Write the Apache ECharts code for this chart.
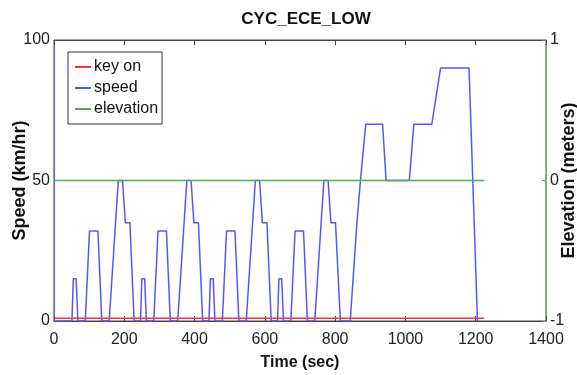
<!DOCTYPE html>
<html>
<head>
<meta charset="utf-8">
<script src="https://cdn.jsdelivr.net/npm/echarts@6/dist/echarts.min.js"></script>
<style>html,body{margin:0;padding:0;background:#fff}#c{width:577px;height:375px}</style>
</head>
<body>
<div id="c"></div>
<script>
// Speed profile (time in s, speed in km/h)
var speedTime = [0,51,55,63,68,89,101,125,136,157,183,195,203,216,228,
  246,250,258,263,284,296,320,331,352,378,390,398,411,423,
  441,445,453,458,479,491,515,526,547,573,585,593,606,618,
  636,640,648,653,674,686,710,721,742,768,780,788,801,815,
  843,862,872,887,935,945,1011,1024,1075,1100,1181,1205];
var speedVal = [0,0,15,15,0,0,32,32,0,0,50,50,35,35,0,
  0,15,15,0,0,32,32,0,0,50,50,35,35,0,
  0,15,15,0,0,32,32,0,0,50,50,35,35,0,
  0,15,15,0,0,32,32,0,0,50,50,35,35,0,
  0,35,50,70,70,50,50,70,70,90,90,0];
var keyOnTime = [0,1224];
var keyOnVal = [1,1];
var elevTime = [0,1224];
var elevVal = [0,0];

function pairs(t,v){var o=[];for(var i=0;i<t.length;i++)o.push([t[i],v[i]]);return o;}

var font = 'Liberation Sans, Arial, sans-serif';
var plain = function(v){return String(v);};
var chart = echarts.init(document.getElementById('c'));
chart.setOption({
  animation:false,
  backgroundColor:'#fff',
  title:{text:'CYC_ECE_LOW',left:301,top:6,textAlign:'center',
    textStyle:{fontFamily:font,fontSize:17,fontWeight:'bold',color:'#111'}},
  grid:{left:54,right:31,top:40,bottom:54,containLabel:false,outerBoundsMode:'none',
    show:true,borderColor:'#444',borderWidth:1},
  legend:{orient:'vertical',left:68,top:52,borderColor:'#333',borderWidth:1,
    backgroundColor:'#fff',padding:[7,4,7,7],itemGap:5,itemWidth:16,itemHeight:2,icon:'rect',
    textStyle:{fontFamily:font,fontSize:16,color:'#111',padding:[0,0,0,-2]},
    data:['key on','speed','elevation']},
  xAxis:[{type:'value',min:0,max:1400,interval:200,
    name:'Time (sec)',nameLocation:'middle',nameGap:34,nameMoveOverlap:false,
    nameTextStyle:{fontFamily:font,fontSize:16,fontWeight:'bold',color:'#111'},
    axisLine:{onZero:false,lineStyle:{color:'#444'}},
    axisTick:{inside:true,length:5,lineStyle:{color:'#444'}},
    axisLabel:{fontFamily:font,fontSize:16,color:'#222',margin:11,formatter:plain},
    splitLine:{show:false}},
   {type:'value',position:'top',min:0,max:1400,interval:200,
    axisLine:{onZero:false,lineStyle:{color:'#444'}},
    axisTick:{inside:true,length:5,lineStyle:{color:'#444'}},
    axisLabel:{show:false},splitLine:{show:false}}],
  yAxis:[{type:'value',min:0,max:100,interval:50,position:'left',
    name:'Speed (km/hr)',nameLocation:'middle',nameGap:25,nameRotate:90,nameMoveOverlap:false,
    nameTextStyle:{fontFamily:font,fontSize:18,fontWeight:'bold',color:'#111'},
    axisLine:{show:true,onZero:false,lineStyle:{color:'#5a5aff'}},
    axisTick:{show:true,inside:true,length:4,lineStyle:{color:'#3a3aff'}},
    axisLabel:{fontFamily:font,fontSize:16,color:'#222',margin:4,formatter:plain},
    splitLine:{show:false}},
   {type:'value',min:-1,max:1,interval:1,position:'right',
    name:'Elevation (meters)',nameLocation:'middle',nameGap:14,nameRotate:90,nameMoveOverlap:false,
    nameTextStyle:{fontFamily:font,fontSize:18,fontWeight:'bold',color:'#111'},
    axisLine:{show:true,onZero:false,lineStyle:{color:'#66bb66'}},
    axisTick:{show:true,inside:true,length:4,lineStyle:{color:'#44aa44'}},
    axisLabel:{fontFamily:font,fontSize:16,color:'#222',margin:4,formatter:plain},
    splitLine:{show:false}}],
  series:[
    {name:'speed',type:'line',xAxisIndex:0,yAxisIndex:0,showSymbol:false,symbol:'none',
      data:pairs(speedTime,speedVal),lineStyle:{color:'#5555ff',width:1.5},itemStyle:{color:'#5555ff'},z:2},
    {name:'elevation',type:'line',xAxisIndex:0,yAxisIndex:1,showSymbol:false,symbol:'none',
      data:pairs(elevTime,elevVal),lineStyle:{color:'#4caf4c',width:1.5},itemStyle:{color:'#4caf4c'},z:3},
    {name:'key on',type:'line',xAxisIndex:0,yAxisIndex:0,showSymbol:false,symbol:'none',
      data:pairs(keyOnTime,keyOnVal),lineStyle:{color:'#ff3333',width:1.5},itemStyle:{color:'#ff3333'},z:4}
  ]
});
</script>
</body>
</html>
